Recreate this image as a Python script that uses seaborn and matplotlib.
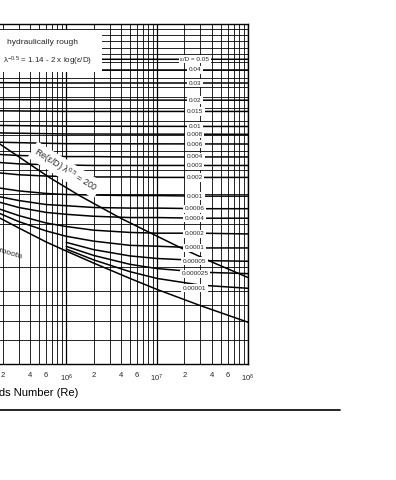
import numpy as np
import pandas as pd
import matplotlib.pyplot as plt
import seaborn as sns
from matplotlib.lines import Line2D
from matplotlib.patches import Rectangle

sns.set_theme(style='white')
plt.rcParams['font.family'] = ['Liberation Sans', 'DejaVu Sans']
plt.rcParams['mathtext.fontset'] = 'custom'
plt.rcParams['mathtext.rm'] = 'Liberation Sans'
plt.rcParams['mathtext.it'] = 'Liberation Sans:italic'

re_rough = [1.5e5, 1e6, 1e8]
re_mid = [1.5e5, 3e5, 6e5, 1e6, 2e6, 5e6, 1e7, 3e7, 1e8]
re_late = [1e6, 2e6, 5e6, 1e7, 3e7, 1e8]

# friction factor (lambda) per relative roughness
rough_labels = ['0.05', '0.04', '0.03', '0.02', '0.015', '0.01', '0.008', '0.006']
lam_rough = [
    [0.0717, 0.0716, 0.0716],
    [0.0649, 0.0647, 0.0647],
    [0.0574, 0.0572, 0.0572],
    [0.0489, 0.0487, 0.0486],
    [0.0440, 0.0437, 0.0437],
    [0.0383, 0.0380, 0.0379],
    [0.0357, 0.0353, 0.0352],
    [0.0327, 0.0322, 0.0321],
]

mid_labels = ['0.004', '0.003', '0.002', '0.001', '0.0006', '0.0004', '0.0002', '0.0001']
lam_mid = [
    [0.0292, 0.0288, 0.0286, 0.0285, 0.0285, 0.0284, 0.0284, 0.0284, 0.0284],
    [0.0271, 0.0266, 0.0264, 0.0263, 0.0262, 0.0262, 0.0262, 0.0262, 0.0262],
    [0.0246, 0.0240, 0.0237, 0.0236, 0.0235, 0.0235, 0.0234, 0.0234, 0.0234],
    [0.0214, 0.0206, 0.0201, 0.0199, 0.0198, 0.0197, 0.0197, 0.0196, 0.0196],
    [0.0198, 0.0188, 0.0181, 0.0179, 0.0176, 0.0175, 0.0175, 0.0174, 0.0174],
    [0.0189, 0.0176, 0.0168, 0.0165, 0.0162, 0.0160, 0.0160, 0.0159, 0.0159],
    [0.0178, 0.0163, 0.0152, 0.0147, 0.0142, 0.0139, 0.0138, 0.0138, 0.0137],
    [0.0172, 0.0154, 0.0141, 0.0134, 0.0128, 0.0123, 0.0122, 0.0120, 0.0120],
]
lam_smooth = [0.0166, 0.0145, 0.0127, 0.01165, 0.0104, 0.0090, 0.0081, 0.00695, 0.00594]

late_labels = ['0.00005', '0.000025', '0.00001']
lam_late = [
    [0.01265, 0.01181, 0.01113, 0.01086, 0.01065, 0.01058],
    [0.01218, 0.01118, 0.01028, 0.00987, 0.00954, 0.00941],
    [0.01187, 0.01072, 0.00959, 0.00899, 0.00844, 0.00819],
]

# boundary Re(e/D) lambda^0.5 = 200
diag_re = [1.03e5, 1.86e5, 6.5e5, 1.43e6, 3.97e6, 1.83e7, 3.9e7, 1.05e8]
diag_lam = [0.0379, 0.0321, 0.0234, 0.0196, 0.0159, 0.0120, 0.01055, 0.0090]

fig = plt.figure(figsize=(3.96, 4.8), dpi=100)
ax = fig.add_axes([-0.521, 0.2417, 1.1472, 0.7083])
ax.set_xscale('log')
ax.set_yscale('log')
ax.set_xlim(1e3, 1e8)
ax.set_ylim(0.004, 0.1)

# grid
major_x = [10.0 ** k for k in range(3, 9)]
minor_x = [m * 10.0 ** k for k in range(3, 8) for m in range(2, 10)]
minor_lab = [str(m) if m in (2, 4, 6) else '' for k in range(3, 8) for m in range(2, 10)]
ax.set_xticks(major_x)
ax.set_xticklabels([r'$10^{%d}$' % k for k in range(3, 9)])
ax.set_xticks(minor_x, minor=True)
ax.set_xticklabels(minor_lab, minor=True)
ys = [0.004, 0.005, 0.006, 0.007, 0.008, 0.01, 0.015, 0.02, 0.025, 0.03,
      0.035, 0.04, 0.045, 0.05, 0.055, 0.06, 0.065, 0.07, 0.075, 0.08, 0.085, 0.09, 0.095, 0.1]
ax.set_yticks(ys)
ax.set_yticks([], minor=True)
ax.set_yticklabels([])
ax.grid(True, which='major', axis='x', color='black', lw=0.9)
ax.grid(True, which='minor', axis='x', color='black', lw=0.6)
ax.grid(True, which='major', axis='y', color='black', lw=0.6)
ax.tick_params(axis='x', which='both', length=0, pad=6, labelsize=5.5)
ax.tick_params(axis='y', length=0)
for s in ax.spines.values():
    s.set_color('black')
    s.set_linewidth(1.0)

lw = 1.1
for lab, lam in zip(rough_labels, lam_rough):
    sns.lineplot(x=re_rough, y=lam, ax=ax, color='black', lw=lw, estimator=None, sort=False)
for lab, lam in zip(mid_labels, lam_mid):
    sns.lineplot(x=re_mid, y=lam, ax=ax, color='black', lw=lw, estimator=None, sort=False)
for lab, lam in zip(late_labels, lam_late):
    sns.lineplot(x=re_late, y=lam, ax=ax, color='black', lw=lw, estimator=None, sort=False)
sns.lineplot(x=re_mid, y=lam_smooth, ax=ax, color='black', lw=lw, estimator=None, sort=False)
sns.lineplot(x=diag_re, y=diag_lam, ax=ax, color='black', lw=lw, estimator=None, sort=False)

# curve labels
lab_x = 2.6e7
all_labels = rough_labels + mid_labels + late_labels
all_ends = [l[-1] for l in lam_rough] + [l[-1] for l in lam_mid] + [l[-1] for l in lam_late]
for i, (lab, yv) in enumerate(zip(all_labels, all_ends)):
    txt = 'ε/D = ' + lab if i == 0 else lab
    ax.text(lab_x, yv, txt, ha='center', va='center', fontsize=4.6, zorder=5,
            bbox=dict(boxstyle='square,pad=0.25', fc='white', ec='none'))

# white box for the rough-regime note
ax.add_patch(Rectangle((1e5, 0.0636), 2.5e6 - 1e5, 0.0945 - 0.0636,
                       facecolor='white', edgecolor='none', zorder=5))
ax.text(5.5e5, 0.0843, 'hydraulically rough', ha='center', va='center',
        fontsize=6.0, zorder=6)
ax.text(6.2e5, 0.0705, 'λ$^{-0.5}$ = 1.14 - 2 x log(ε/D)', ha='center', va='center',
        fontsize=5.8, zorder=6)
ax.text(9.8e5, 0.0251, 'Re(ε/D) λ$^{0.5}$ = 200', ha='center', va='center',
        fontsize=6.4, rotation=-32, zorder=6,
        bbox=dict(boxstyle='square,pad=0.3', fc='white', ec='none'))
ax.text(3.2e5, 0.0109, 'hydraulically smooth', ha='right', va='baseline',
        fontsize=6, rotation=-17, rotation_mode='anchor', zorder=6)

ax.set_xlabel('Reynolds Number (Re)', fontsize=8, labelpad=3, color='black')
ax.set_ylabel('')

fig.add_artist(Line2D([0, 0.859], [0.1458, 0.1458], color='black', lw=1.2))

fig.savefig('out.png', dpi=100, facecolor='white')
